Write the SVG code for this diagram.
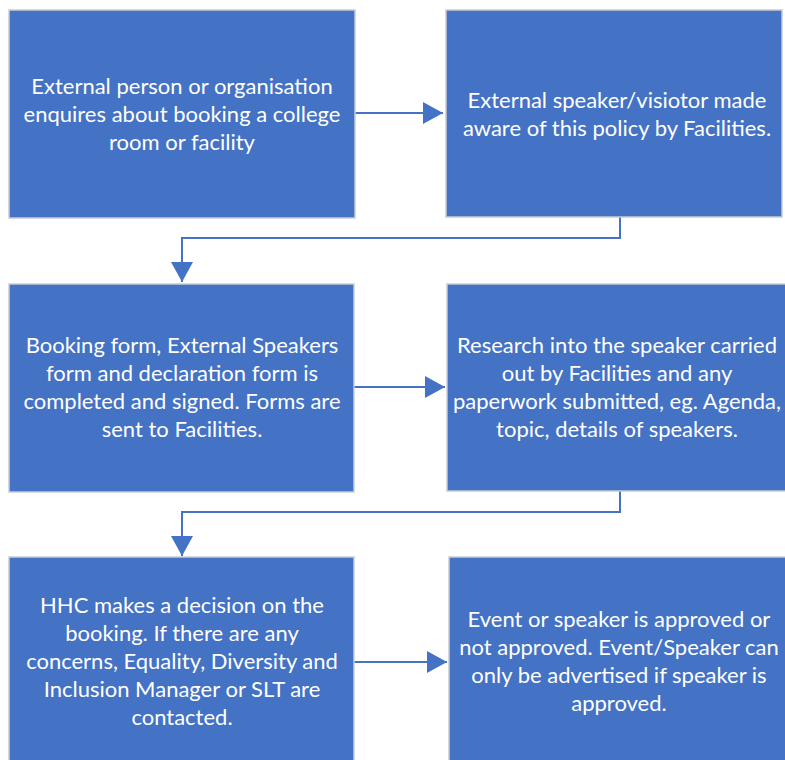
<svg xmlns="http://www.w3.org/2000/svg" width="785" height="760" viewBox="0 0 785 760">
<defs>
<style>
.box{fill:#4472C4;stroke:#c9ccd2;stroke-width:1.5}
.t{font-family:Lato,"Liberation Sans",sans-serif;font-size:22px;fill:#ffffff;text-anchor:middle}
.c{fill:none;stroke:#4472C4;stroke-width:2}
</style>
<marker id="ah" markerUnits="userSpaceOnUse" markerWidth="22" markerHeight="22" refX="20" refY="11" orient="auto">
<path d="M0,0 L20,11 L0,22 z" fill="#4472C4"/>
</marker>
</defs>
<rect width="785" height="760" fill="#ffffff"/>
<g id="connectors">
<line class="c" x1="355" y1="113" x2="443" y2="113" marker-end="url(#ah)"/>
<line class="c" x1="354" y1="387" x2="445" y2="387" marker-end="url(#ah)"/>
<line class="c" x1="354" y1="662" x2="447" y2="662" marker-end="url(#ah)"/>
<polyline class="c" points="620,217 620,238 182,238 182,282" marker-end="url(#ah)"/>
<polyline class="c" points="620,491 620,512 182,512 182,556" marker-end="url(#ah)"/>
</g>
<g id="n1">
<rect class="box" x="9" y="10" width="346" height="208"/>
<text class="t" x="182" y="94">External person or organisation</text>
<text class="t" x="182" y="122">enquires about booking a college</text>
<text class="t" x="182" y="150">room or facility</text>
</g>
<g id="n2">
<rect class="box" x="446" y="10" width="336" height="207"/>
<text class="t" x="617" y="108">External speaker/visiotor made</text>
<text class="t" x="617" y="136">aware of this policy by Facilities.</text>
</g>
<g id="n3">
<rect class="box" x="9" y="284" width="345" height="208"/>
<text class="t" x="182" y="353">Booking form, External Speakers</text>
<text class="t" x="182" y="381">form and declaration form is</text>
<text class="t" x="182" y="409">completed and signed. Forms are</text>
<text class="t" x="182" y="437">sent to Facilities.</text>
</g>
<g id="n4">
<rect class="box" x="447" y="284" width="345" height="207"/>
<text class="t" x="617" y="353">Research into the speaker carried</text>
<text class="t" x="617" y="381">out by Facilities and any</text>
<text class="t" x="617" y="409">paperwork submitted, eg. Agenda,</text>
<text class="t" x="617" y="437">topic, details of speakers.</text>
</g>
<g id="n5">
<rect class="box" x="9" y="557" width="345" height="210"/>
<text class="t" x="182" y="613">HHC makes a decision on the</text>
<text class="t" x="182" y="641">booking. If there are any</text>
<text class="t" x="182" y="669">concerns, Equality, Diversity and</text>
<text class="t" x="182" y="697">Inclusion Manager or SLT are</text>
<text class="t" x="182" y="725">contacted.</text>
</g>
<g id="n6">
<rect class="box" x="449" y="557" width="345" height="210"/>
<text class="t" x="619" y="627">Event or speaker is approved or</text>
<text class="t" x="619" y="655">not approved. Event/Speaker can</text>
<text class="t" x="619" y="683">only be advertised if speaker is</text>
<text class="t" x="619" y="711">approved.</text>
</g>
</svg>
